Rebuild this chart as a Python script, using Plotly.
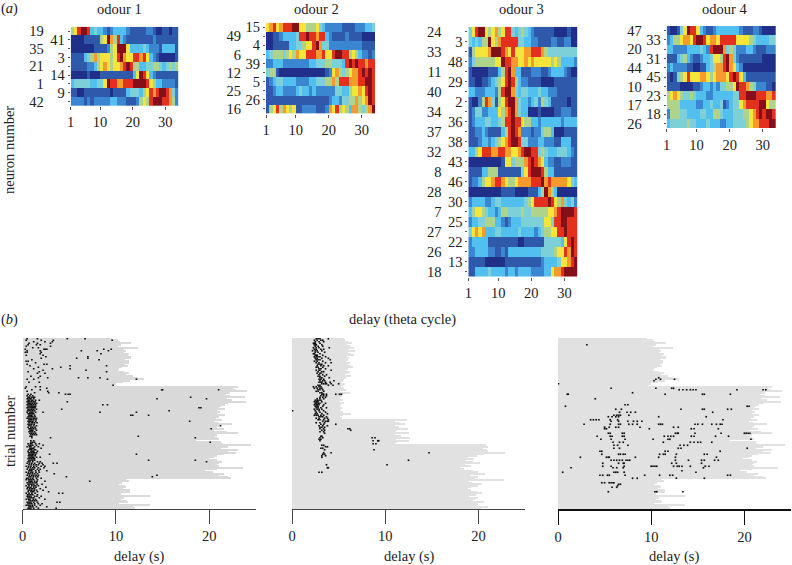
import plotly.graph_objects as go

W, H = 792, 565
FONT = "Liberation Serif"
TXT = 14.5

# ---------- heat map values (colour level 0-9) ----------
labels_o1 = ["19", "41", "35", "3", "21", "14", "1", "9", "42"]
odour1 = [
 [5,6,8,9,9,8,3,4,3,3,2,1,2,3,3,3,3,2,1,1,1,1,1,2,2,1,0,0,1,1,0,1,1],
 [0,0,0,0,1,1,1,1,1,5,6,9,7,5,8,3,2,1,1,1,1,1,1,1,1,2,1,1,1,1,1,1,1],
 [0,0,0,0,0,0,0,1,1,1,1,2,5,6,9,9,9,6,3,3,3,3,4,3,2,2,2,1,3,3,3,3,1],
 [1,1,1,1,3,4,5,7,5,6,6,6,5,6,8,9,7,6,6,8,8,7,8,6,3,2,1,0,0,0,0,0,1],
 [1,1,1,1,1,2,2,3,5,6,7,6,5,6,6,7,8,9,8,5,5,3,3,4,4,5,5,4,3,4,5,4,5],
 [0,0,0,0,0,1,0,0,0,1,1,1,1,1,1,1,1,1,1,3,6,9,8,6,3,2,1,1,1,1,1,1,1],
 [3,4,4,4,4,4,3,3,4,4,6,9,8,8,7,7,8,8,8,9,9,9,9,8,6,5,3,3,2,2,2,2,1],
 [1,1,0,0,1,1,1,1,1,1,1,1,0,1,1,1,1,3,4,4,4,3,5,6,8,7,8,9,9,8,7,4,2],
 [2,2,2,2,1,2,1,2,2,2,2,2,3,3,2,2,2,1,1,1,2,5,6,5,8,9,9,9,8,8,7,5,2],
]
labels_o2 = ["15", "49", "4", "6", "39", "12", "5", "25", "26", "16"]
odour2 = [
 [6,7,8,6,7,8,8,8,9,9,6,6,5,5,5,6,4,3,2,2,2,2,2,1,1,1,1,2,2,2,3,3,4],
 [0,0,1,1,2,3,3,3,3,4,8,8,9,8,8,7,8,8,3,2,1,1,1,1,2,1,1,1,1,0,0,0,0],
 [0,0,1,1,1,1,1,3,3,4,4,5,6,6,8,9,7,4,4,2,2,2,2,2,2,2,2,2,2,1,1,1,1],
 [3,4,5,5,5,4,5,6,5,7,6,6,8,8,8,7,7,8,6,6,8,9,9,8,8,5,6,5,3,2,2,1,2],
 [2,2,3,3,3,2,2,2,2,2,2,2,2,3,3,4,4,4,5,5,4,4,4,3,8,9,8,9,8,8,7,8,8],
 [4,5,5,1,0,0,0,0,0,0,0,0,0,0,0,0,0,0,1,2,6,7,5,4,5,6,7,7,8,9,8,9,8],
 [1,2,3,4,4,3,3,3,3,2,2,2,2,3,3,4,4,4,5,5,7,5,8,8,8,7,7,7,8,8,9,9,8],
 [1,1,2,3,3,2,2,2,2,3,4,3,3,2,3,2,2,2,2,2,2,4,4,3,3,5,6,6,7,6,8,9,8],
 [1,1,1,1,1,1,1,1,1,1,1,1,1,1,1,1,1,1,1,2,3,3,2,4,4,5,5,7,5,6,7,9,8],
 [1,5,6,8,5,7,6,5,6,1,1,2,2,2,2,1,1,1,2,7,6,8,5,6,5,3,7,7,5,4,5,7,9],
]
labels_o3 = ["24", "3", "33", "48", "11", "29", "40", "2", "34", "36", "37", "38", "32",
             "43", "8", "46", "28", "30", "7", "25", "27", "22", "26", "13", "18"]
odour3 = [
 [4,6,8,9,9,6,5,6,7,5,6,8,8,4,3,4,5,4,3,2,1,1,1,1,1,1,0,0,0,0,1,0,0],
 [4,3,4,3,5,5,9,6,5,7,8,8,8,8,8,4,4,3,3,2,2,1,1,1,1,2,2,1,1,2,2,0,0],
 [1,5,6,6,6,6,7,9,9,9,8,7,6,8,6,6,6,7,7,8,8,8,7,5,4,4,4,4,4,4,4,4,4],
 [2,4,5,5,5,5,5,5,6,6,9,8,8,7,7,6,6,7,6,7,6,6,6,6,6,5,6,5,3,3,3,3,2],
 [1,0,0,0,0,0,1,1,1,3,5,8,9,7,3,3,1,1,1,2,2,2,1,1,2,3,3,3,3,2,1,0,0],
 [1,1,0,0,1,1,2,3,4,5,6,8,9,8,5,3,2,2,1,1,1,1,0,0,0,0,1,1,1,1,1,1,1],
 [3,3,2,2,2,3,3,3,2,5,8,9,9,7,4,3,4,4,3,3,3,4,3,3,2,2,2,1,1,1,1,1,1],
 [1,0,0,2,5,8,7,4,1,5,6,8,9,9,7,4,3,3,2,3,4,2,5,4,3,1,1,1,1,1,0,1,1],
 [1,2,4,4,2,2,3,3,3,6,5,7,8,9,7,4,3,3,0,0,0,1,0,0,0,0,1,1,2,2,2,1,1],
 [1,2,3,3,3,4,4,3,3,4,5,8,8,9,8,8,6,5,5,3,3,2,3,3,3,3,3,3,2,3,3,3,3],
 [1,1,2,2,3,2,1,1,1,1,3,5,8,9,8,7,2,2,2,1,2,2,4,5,5,3,0,0,0,1,1,1,1],
 [1,1,1,2,3,3,2,3,4,5,6,7,8,9,9,8,4,4,2,2,2,3,3,2,2,2,1,1,3,3,3,1,1],
 [3,3,5,6,8,8,8,7,7,8,8,7,7,6,6,7,8,9,9,8,8,4,5,4,3,3,3,4,4,4,3,2,1],
 [0,0,0,0,0,0,0,0,0,0,1,6,6,4,5,5,5,7,8,9,8,7,6,3,2,2,1,1,2,2,2,1,1],
 [1,1,1,1,3,3,5,5,5,1,1,1,1,1,1,1,4,6,8,9,9,9,8,5,3,3,1,1,1,1,1,1,1],
 [1,2,2,3,5,6,6,7,8,8,7,6,5,5,6,7,7,7,7,8,8,8,9,7,8,7,7,7,7,7,6,4,3],
 [0,0,0,0,0,0,0,0,0,0,1,1,1,1,0,0,0,0,1,1,1,3,5,9,7,5,3,0,0,0,0,0,0],
 [2,3,3,3,3,2,2,3,4,4,3,3,3,3,3,3,3,4,5,6,8,8,8,8,9,8,6,5,7,4,3,4,2],
 [3,5,6,6,5,4,3,3,2,3,5,5,4,4,4,4,5,4,4,5,5,5,5,5,6,6,7,8,9,9,9,9,8],
 [2,3,3,4,4,5,5,5,3,3,2,1,2,3,3,3,4,4,4,4,4,4,4,6,6,4,8,8,9,9,8,8,8],
 [4,6,7,6,7,3,3,3,4,4,3,3,3,3,3,4,3,3,3,3,2,3,4,5,5,6,6,8,8,9,8,8,8],
 [2,3,3,3,3,3,1,1,1,1,1,1,1,1,1,0,0,1,1,1,1,1,1,4,4,4,4,4,3,6,8,9,8],
 [2,2,3,3,3,3,2,2,1,1,2,1,3,3,3,3,3,3,3,3,3,3,4,4,4,4,5,6,6,8,7,9,8],
 [1,1,1,1,1,0,0,0,0,0,0,1,1,1,1,1,1,1,1,1,1,1,2,3,3,3,3,4,6,6,7,8,9],
 [1,1,3,3,3,3,4,3,3,3,3,2,3,3,2,3,3,3,3,2,2,2,2,3,3,6,7,7,8,9,9,9,9],
]
labels_o4 = ["47", "33", "20", "31", "44", "45", "10", "23", "17", "18", "26"]
odour4 = [
 [1,0,0,1,4,6,9,8,8,6,3,2,1,1,2,3,3,3,3,3,3,3,2,1,1,1,2,2,1,0,0,0,0],
 [2,3,5,5,6,7,7,6,8,9,9,8,6,7,7,6,8,8,8,8,8,6,6,6,6,5,4,3,3,3,3,4,4],
 [3,3,2,2,2,2,3,3,3,3,4,3,2,8,9,9,9,7,4,5,4,2,2,2,3,3,2,1,1,1,2,2,2],
 [1,1,1,3,4,5,3,2,1,1,2,3,3,4,6,6,5,8,9,7,4,2,1,1,1,1,1,1,1,0,0,0,0],
 [2,3,2,2,2,2,1,1,0,0,1,1,3,4,5,7,7,8,9,7,6,3,2,0,0,0,0,0,0,0,0,0,0],
 [1,0,1,4,5,6,8,6,6,6,7,7,6,5,6,7,7,7,6,8,9,8,6,3,1,1,1,1,1,1,1,1,1],
 [1,1,1,1,0,0,0,0,1,1,2,3,3,2,3,2,4,4,5,5,6,9,8,8,7,5,4,2,2,2,1,1,0],
 [5,6,7,6,5,4,4,5,4,3,3,3,2,2,3,3,3,3,3,3,4,4,8,8,9,9,9,8,8,8,7,7,8],
 [5,5,5,5,3,3,3,3,3,2,2,3,3,4,3,3,4,1,2,3,4,4,6,7,8,8,8,8,9,9,6,5,5],
 [2,5,5,5,4,4,3,3,3,3,4,4,3,3,5,5,4,3,3,3,4,4,4,5,5,6,7,8,9,8,9,9,8],
 [3,4,4,4,4,4,5,4,4,3,3,3,4,3,3,3,2,2,3,3,4,4,4,4,5,6,7,7,8,8,8,9,9],
]
theta_cycles = [i + 1.5 for i in range(33)]
theta_ticks = [1, 10, 20, 30]

# ---------- delay duration of every trial (s) ----------
delay_end_a = [
 9.5,10.2,10.4,11.6,10.5,10.2,12.3,10.8,11.0,10.8,11.4,11.2,11.6,11.6,10.9,11.3,11.3,10.9,11.2,10.6,
 10.3,10.2,10.8,11.4,11.0,11.8,12.3,13.0,11.5,10.7,10.0,9.7,
 23.0,22.5,22.8,24.0,22.2,21.7,22.2,23.8,21.8,22.4,23.9,22.0,21.6,21.2,21.0,21.6,20.8,21.1,20.8,21.6,
 21.0,20.7,21.3,20.5,20.9,22.4,21.0,20.8,21.5,20.5,21.8,23.0,20.8,20.6,20.8,21.0,18.5,21.2,21.4,24.4,
 22.0,21.2,23.0,22.0,22.8,21.5,20.8,20.5,19.9,20.8,21.3,21.0,20.8,21.0,23.6,20.8,19.5,20.3,21.5,21.0,
 22.0,22.3,
 11.0,11.4,10.6,10.3,10.9,11.0,10.7,11.5,11.5,10.5,10.5,13.6,10.8,10.5,11.0,11.2,10.3,13.6,11.8,12.0,
]
delay_end_b = [
 5.6,5.7,6.0,6.4,5.9,6.2,6.6,6.1,6.8,6.0,6.3,6.7,5.9,6.1,6.0,5.8,6.2,6.0,6.3,6.5,6.0,5.8,6.2,6.0,5.7,
 6.3,5.8,5.6,5.5,5.4,5.7,5.5,5.3,5.6,5.8,5.2,6.2,5.5,5.4,5.2,5.2,5.5,5.2,5.6,5.3,5.2,5.4,5.3,5.2,5.5,
 6.3,5.5,5.2,5.4,
 12.3,11.0,11.5,12.1,11.0,11.5,12.4,11.3,11.2,12.6,11.0,11.7,12.7,11.2,12.5,11.3,11.0,
 20.8,21.0,20.5,20.9,21.0,22.9,20.6,19.8,18.9,19.5,18.7,19.4,20.2,18.6,19.2,18.0,18.5,19.4,20.0,20.7,
 19.1,20.0,19.6,22.7,19.0,19.3,20.4,20.0,19.2,18.9,19.2,19.8,20.4,19.7,19.0,20.0,19.6,19.4,20.6,20.0,
 19.8,21.0,20.3,
]

# ---------- spike times: trial -> times (s) ----------
spikes_a = {
 1:[0.5,1.6,4.8,6.7],2:[0.4,2.0,3.3,9.6],3:[1.2,2.4,3.2],4:[0.7,1.6,3.0],5:[0.6,1.5,1.9],6:[0.4,3.0],7:[1.1,1.7],
 8:[0.3,2.3,2.45,2.6,8.7,9.5],9:[0.5,1.9,6.3,8.0,9.2],10:[0.3,0.5,2.0],11:[1.9,8.4],12:[0.4,2.2],13:[2.5,7.0],
 14:[2.0,5.8,7.0],15:[8.2,1.0],16:[0.4,0.6],17:[1.4],18:[2.3,2.6,0.5],19:[5.1,0.8,9.0],20:[4.1,1.7],21:[1.2,3.2,5.1],
 22:[6.8,2.2],23:[1.8,9.0,0.6],24:[2.4,1.6],26:[0.9,1.9],27:[1.7,2.7,6.0,7.0,8.3],28:[1.2,9.1,12.2,0.5],30:[0.7,1.8],
 32:[9.7],33:[1.4,1.9,0.4],34:[0.3,2.6],35:[1.0,1.9,14.9,15.0,21.0],36:[0.5,2.7],37:[3.9,1.3,2.8],
 38:[0.6,0.9,4.6,4.9,5.1],39:[0.5,0.8,1.1],40:[0.6,0.75,1.0,1.15,1.3,18.0],41:[0.5,0.7,0.85,0.9,1.2,14.4,19.7],
 42:[0.6,0.7,0.95,1.1,1.4,1.8],43:[0.5,0.65,0.8,1.0,1.2,1.35,4.8],44:[0.6,0.75,0.9,1.1,1.3,1.5],
 45:[0.5,0.7,0.85,1.0,1.2,1.4,8.6,9.1],46:[0.6,0.8,0.95,1.1,1.25,1.4],47:[0.5,0.7,0.9,1.05,1.2,1.35,18.9,19.1],
 48:[0.6,0.8,1.0,1.2,1.5,4.2],49:[0.55,0.7,0.9,1.1,1.3,15.7],50:[0.5,0.8,0.95,1.1,1.4,2.2,8.3,12.2],
 51:[0.6,0.75,0.9,1.05,1.2],52:[0.7,0.85,1.0,1.3,11.6,11.8,13.5],53:[0.6,0.8,0.95,1.1,1.35],54:[0.5,0.7,0.9,1.15,1.3,1.5],
 55:[0.7,0.85,1.0,1.2,1.45],56:[0.6,0.75,0.9,1.1,1.4,17.9],57:[0.7,0.95,1.1,1.3,1.55],58:[0.6,0.8,1.0,1.25],
 59:[0.7,0.9,1.2,1.5,21.2],60:[0.6,0.9,1.1,1.35],61:[0.7,0.85,1.0,1.2,1.4,20.2],62:[0.8,0.95,1.1,1.5],
 63:[0.7,0.9,1.05,1.3],64:[0.8,1.0,1.2,1.4],65:[0.9,1.1,1.3,1.5],66:[0.8,1.0,12.4],67:[1.0,3.0,18.5],
 69:[1.2,0.9],70:[0.9,1.1,1.3,20.1],71:[0.6,0.85,1.0,1.4,1.8],72:[0.7,0.9,1.1,1.5,2.2],73:[0.5,0.75,0.9,1.3,1.7],
 74:[0.8,0.95,1.1,1.2,2.0],75:[0.7,0.85,1.0,1.25,1.4],76:[0.6,0.9,1.05,1.2,1.6],77:[0.65,0.8,1.0,1.15,1.3,1.5],
 78:[0.7,0.9,1.05,1.2,1.4,2.9,12.2],79:[0.65,0.8,0.95,1.0,1.1,1.35],80:[0.7,0.9,1.05,1.2,1.5,1.9],81:[0.6,0.8,1.0,1.15,1.3],
 82:[0.7,0.9,1.1,1.3,13.5,18.5],83:[0.6,0.8,1.1,1.6,1.9,19.7],84:[0.5,0.75,1.0,1.3,1.8,2.1,3.3,3.7],
 85:[0.7,0.95,1.2,1.45,1.7,2.2],86:[0.4,0.65,0.9,1.2,1.5,2.0,2.4],87:[0.6,0.85,1.1,1.3,1.7,2.3],88:[0.5,0.8,1.0,1.2,1.6,1.9],
 89:[0.7,0.85,1.0,1.4,1.75,2.6],90:[0.4,0.65,0.9,1.1,1.45,1.8],91:[0.6,0.8,1.05,1.3,1.6,3.4],92:[0.5,0.75,1.0,1.2,1.45,1.7,14.4],
 93:[0.7,0.9,1.15,1.4,1.65,4.7,13.9],94:[0.45,0.6,0.85,1.1,1.5,2.0],95:[0.4,0.65,0.8,1.0,1.2,1.6],96:[0.7,0.85,1.0,1.3,1.55,2.4,7.2],
 97:[0.5,0.7,0.9,1.1,1.35,1.5],98:[0.6,0.8,1.0,1.2,1.55,2.1],99:[0.4,0.7,1.0,1.25,1.4,1.7],100:[0.55,0.7,0.9,1.2,1.45,2.5],
 101:[0.5,0.75,0.95,1.1,1.3,1.9],102:[0.65,0.8,1.0,1.25,1.5,2.2],103:[0.6,0.9,1.05,1.2,1.6,2.8],104:[0.4,0.7,1.0,1.35,3.9,4.3],
 105:[0.55,0.7,0.9,1.1,1.6],106:[0.5,0.7,0.9,1.3,1.55,2.0],107:[0.6,0.8,1.0,1.2,1.8],108:[0.4,0.65,0.8,1.15,1.4,2.4],
 109:[0.7,0.9,1.1,1.3,1.5],110:[0.5,0.7,0.9,1.2,1.6,3.7,4.0],111:[0.6,0.8,1.0,1.3,1.7,2.1],112:[0.4,0.6,0.8,1.05,1.3,1.9],
 113:[0.7,0.9,1.1,1.5,2.6],114:[0.6,0.75,0.9,1.2,1.7,3.6],
}
spikes_b = {
 1:[2.6,2.8,3.0,3.9],2:[2.4,2.7,3.1,3.3],3:[2.5,2.9,3.4],4:[2.3,2.4,2.5,3.0],5:[2.4,2.5,2.6,3.2],6:[2.5,2.8,3.3],
 7:[2.3,2.6,2.9,4.0],8:[2.4,2.6,3.1,3.4],9:[2.2,2.5,2.7,3.2],10:[2.5,2.8,3.5],11:[2.3,2.4,3.0],12:[2.5,2.6,2.7,3.3],
 13:[2.4,2.6,2.8,3.0,3.6],14:[2.5,2.7,3.2,3.9],15:[2.6,2.8,3.0,4.1],16:[2.4,2.7,3.3],17:[2.6,2.9,3.6,4.2],
 18:[2.8,3.0,3.2],19:[2.7,3.1,3.4,3.9],20:[2.6,2.8,3.3],21:[2.9,3.1,3.6],22:[2.6,2.9,3.0,4.2],23:[2.8,3.2,3.4],
 24:[2.7,3.0,3.1],25:[2.9,3.3,3.7],26:[2.8,3.0,3.5],27:[3.0,3.2,4.0],28:[2.9,3.1,3.4],29:[3.0,3.3,3.5,4.5],
 30:[2.9,3.1,3.2,3.6,4.1],31:[3.2,3.4,3.6,3.7,4.2,5.0],32:[2.8,3.0,3.9,4.4],33:[2.3,2.6,2.9,3.1],34:[2.4,2.7,3.0,3.2],
 35:[2.8,3.0,3.3],36:[2.6,2.8,3.4],37:[3.0,3.2],38:[3.2,3.3,3.4,3.7,4.7,5.1,5.3],39:[3.1,3.4,3.7],40:[3.0,3.3,3.6],
 41:[2.7,3.0,3.4],42:[2.5,2.7,2.9,3.1],43:[2.4,2.6,2.7,2.8,3.2],44:[2.5,2.6,2.8,3.0,3.6],45:[2.4,2.6,2.7,2.9,3.4],
 46:[2.5,2.7,2.8,3.3],47:[2.6,2.8,3.1,3.7],48:[2.4,2.7,2.9,3.2],49:[0.05,2.5,2.9,3.4],50:[2.6,3.0,3.6],
 51:[2.5,2.7,3.2,3.8],52:[2.4,2.6,2.8,3.1,3.4],53:[2.9,3.1,3.3,3.7],54:[2.6,2.9,3.5,3.8],55:[2.8,3.0,3.4,3.9],
 56:[3.3,3.6,3.8,3.9],57:[2.6,3.0,3.5],58:[3.1,3.4,4.7],59:[2.9,3.3,3.8],60:[3.0,3.2,3.5],61:[3.0,3.4,6.0,6.2],
 62:[3.2,3.5,6.3],63:[3.0,3.4],64:[3.5],66:[3.2,3.1],67:[3.0,3.3,8.6,8.9],68:[3.1,2.9],69:[3.0,8.7,9.2,9.3],
 71:[8.7,9.0],72:[3.2,3.4],73:[3.6,3.8],74:[3.3,3.1],75:[3.5,8.8],77:[3.4,4.2,14.7],78:[3.3,3.5],79:[3.2,3.6],
 80:[3.2],82:[12.5],85:[10.2,3.7],87:[3.8,3.9],90:[2.9,3.2],
}
spikes_c = {
 5:[3.1],27:[10.8],28:[10.5,11.0,12.5],29:[10.3],31:[0.05],34:[5.7,10.5,12.2,12.4],35:[13.0,13.4,13.8,14.2,14.5,14.8,19.2,22.0,22.3],
 37:[8.0],38:[1.0,1.1,11.5,15.5,15.7,18.5],41:[4.0],45:[7.2,7.5],46:[0.8,20.3,20.5],48:[6.2,6.8,13.2,15.5,15.7,18.2,18.6],
 50:[6.6,7.4,7.8,8.3,16.6],52:[6.0,6.3,6.5,6.7,7.6],53:[5.4,5.8,6.2,6.5,10.8,15.9],55:[3.5,3.8,4.1,4.4,5.6,6.4,17.7],
 56:[5.7,6.5,7.5,8.1,8.5,9.0],58:[2.8,5.6,6.5,6.7,7.6,8.0,8.5,10.8,11.0,11.2,14.7,15.0,15.5,16.5,17.0,17.4,17.6],
 60:[5.0,5.5,6.2,6.5,8.8,12.4,12.9],61:[5.0,5.2,9.8,14.3,14.6,17.2],64:[5.4,5.6,6.9,7.1,12.6,12.8,12.9,14.7,17.5,20.0,20.2,20.4,20.6],
 66:[4.2,5.6,5.8,6.9,7.1,11.4,11.8,12.1,12.4,14.3,14.6,16.9,18.3],68:[4.6,5.7,7.2,10.2,11.8,12.0,20.7],
 70:[5.9,6.6,7.0,11.3,14.2,14.6,15.0,15.3,16.5],72:[6.0,6.4,7.5,13.1,13.5,13.9],74:[6.0,6.6,12.9,13.2,20.3],
 76:[4.5,4.7,11.5,11.8,17.4],78:[4.7,6.5,6.7,7.0,7.2,10.9,11.3,11.5,12.7,15.7,16.0],
 80:[2.4,5.2,5.4,5.5,8.3,10.8,12.6,17.0],82:[5.7,6.0,6.3,6.6,6.9,7.3,7.5,7.7,12.6,14.0,15.4,15.7,16.8,17.2],
 84:[4.8,6.5,7.0,7.1,12.2,12.7,15.4],86:[4.8,5.7,7.1,10.0,10.2,10.4,10.6,12.4,12.8,13.0,13.3,14.2,15.8,16.2],
 87:[1.4,5.9,6.3,7.0,15.6],89:[13.3],90:[0.5,6.0,6.2,6.4,7.1,14.8],92:[4.5,4.8,5.3,5.5,7.2,9.3,10.9,12.0,12.3,18.2,18.5],
 94:[8.0,8.5,12.7,15.7],97:[4.7,5.0,5.5,5.7,5.9,6.0],98:[6.5,6.7],99:[6.4],100:[5.8,6.3],103:[5.4,10.4,10.6,13.4],
}
delay_ticks = [0, 10, 20]

# ---------- colours ----------
levels = ["#1f2f8a", "#2f5aab", "#3a86d0", "#52c0ee", "#7ed0d8",
          "#aed38a", "#f5e53a", "#f59a2d", "#e4301f", "#850f18"]
colorscale = [[i / 9, c] for i, c in enumerate(levels)]


def dom_x(a, b):
    return [a / W, b / W]


def dom_y(top, bottom):
    return [1 - bottom / H, 1 - top / H]


fig = go.Figure()
layout = dict(
    template="none",
    width=W, height=H, autosize=False, margin=dict(l=0, r=0, t=0, b=0, pad=0, autoexpand=False),
    paper_bgcolor="white", plot_bgcolor="white", showlegend=False,
    barmode="overlay", bargap=0, font=dict(family=FONT, size=TXT, color="#222"),
)

heat_panels = [
    (odour1, labels_o1, (70.7, 178.3, 26.7, 106.0), 23),
    (odour2, labels_o2, (266.0, 375.0, 22.7, 113.5), 21),
    (odour3, labels_o3, (468.3, 577.7, 26.7, 276.7), 23),
    (odour4, labels_o4, (666.7, 776.0, 26.0, 128.3), 21),
]
# the first label of odours 1, 3 and 4 sits further from the axis; in odour 2 the second does
far_first = [True, False, True, True]

n = 1
for (z, names, box, far_len), far in zip(heat_panels, far_first):
    xa, ya = f"x{n}", f"y{n}"
    rows = list(range(len(z)))
    fig.add_trace(go.Heatmap(z=z, x=theta_cycles, y=rows, xaxis=xa, yaxis=ya,
                             colorscale=colorscale, zmin=0, zmax=9, showscale=False,
                             hoverinfo="skip", zsmooth=False))
    is_far = [(i % 2 == 0) == far for i in rows]
    layout[f"xaxis{n}"] = dict(domain=dom_x(box[0], box[1]), anchor=ya, range=[1, 34], tickmode="array",
                               tickvals=theta_ticks, ticktext=[str(v) for v in theta_ticks],
                               ticks="outside", ticklen=3, tickcolor="#555", showgrid=False, showline=False,
                               zeroline=False, automargin=False, tickfont=dict(size=TXT, color="#222"))
    layout[f"yaxis{n}"] = dict(domain=dom_y(box[2], box[3]), anchor=xa, range=[len(z) - 0.5, -0.5],
                               tickmode="array", tickvals=rows,
                               ticktext=["" if f else t for t, f in zip(names, is_far)],
                               ticks="outside", ticklen=2, tickcolor="#555", showgrid=False, showline=False,
                               zeroline=False, automargin=False, tickfont=dict(size=TXT, color="#222"))
    # second axis carrying the labels set further out
    m = n + 10
    fig.add_trace(go.Scatter(x=[None], y=[None], xaxis=xa, yaxis=f"y{m}", mode="markers",
                             hoverinfo="skip", marker=dict(opacity=0)))
    layout[f"yaxis{m}"] = dict(domain=dom_y(box[2], box[3]), anchor=xa, overlaying=ya, side="left",
                               range=[len(z) - 0.5, -0.5], tickmode="array",
                               tickvals=[i for i in rows if is_far[i]],
                               ticktext=[names[i] for i in rows if is_far[i]],
                               ticks="outside", ticklen=far_len, tickcolor="rgba(0,0,0,0)",
                               showgrid=False, showline=False, zeroline=False, automargin=False,
                               tickfont=dict(size=TXT, color="#222"))
    n += 1

raster_panels = [
    (delay_end_a, spikes_a, (22.5, 256.0), "#d9d9d9", "#444444", 1),
    (delay_end_b, spikes_b, (292.0, 525.0), "#e1e1e1", "#444444", 1),
    (delay_end_a, spikes_c, (558.0, 791.0), "#e1e1e1", "#111111", 1.5),
]
for ends, spikes, (left, right), grey, axis_col, lw in raster_panels:
    xa, ya = f"x{n}", f"y{n}"
    trials = list(range(1, len(ends) + 1))
    fig.add_trace(go.Bar(x=ends, y=trials, orientation="h", width=1, xaxis=xa, yaxis=ya,
                         marker=dict(color=grey, line=dict(width=0)), hoverinfo="skip"))
    sx = [t for k in spikes for t in spikes[k]]
    sy = [k for k in spikes for _t in spikes[k]]
    fig.add_trace(go.Scatter(x=sx, y=sy, mode="markers", xaxis=xa, yaxis=ya, hoverinfo="skip",
                             marker=dict(symbol="square", size=1.7, color="#111111", line=dict(width=0))))
    layout[f"xaxis{n}"] = dict(domain=dom_x(left, right), anchor=ya, range=[0, 25], tickmode="array",
                               tickvals=delay_ticks, ticktext=[str(v) for v in delay_ticks],
                               ticks="outside", ticklen=14, tickcolor=axis_col, tickwidth=1,
                               showline=True, linecolor=axis_col, linewidth=lw, showgrid=False,
                               zeroline=False, automargin=False, tickfont=dict(size=TXT, color="#222"))
    layout[f"yaxis{n}"] = dict(domain=dom_y(338, 509), anchor=xa, range=[len(ends) + 0.5, 0.5],
                               visible=False, showgrid=False, zeroline=False, automargin=False)
    n += 1


def label(text, x, y, size=TXT, angle=0):
    return dict(text=text, x=x / W, y=1 - y / H, xref="paper", yref="paper", showarrow=False,
                xanchor="center", yanchor="middle", textangle=angle,
                font=dict(family=FONT, size=size, color="#222"))


layout["annotations"] = [
    label("(<i>a</i>)", 9, 9), label("(<i>b</i>)", 9, 319),
    label("odour 1", 119, 9), label("odour 2", 316, 9), label("odour 3", 521, 9), label("odour 4", 724, 9),
    label("neuron number", 9, 150, angle=-90), label("trial number", 10, 432, angle=-90),
    label("delay (theta cycle)", 402, 319),
    label("delay (s)", 139, 556), label("delay (s)", 409, 556), label("delay (s)", 674, 556),
]
fig.update_layout(**layout)
fig.write_html("out.html", config=dict(displayModeBar=False),
               post_script="document.body.style.margin='0';document.body.style.padding='0';")
